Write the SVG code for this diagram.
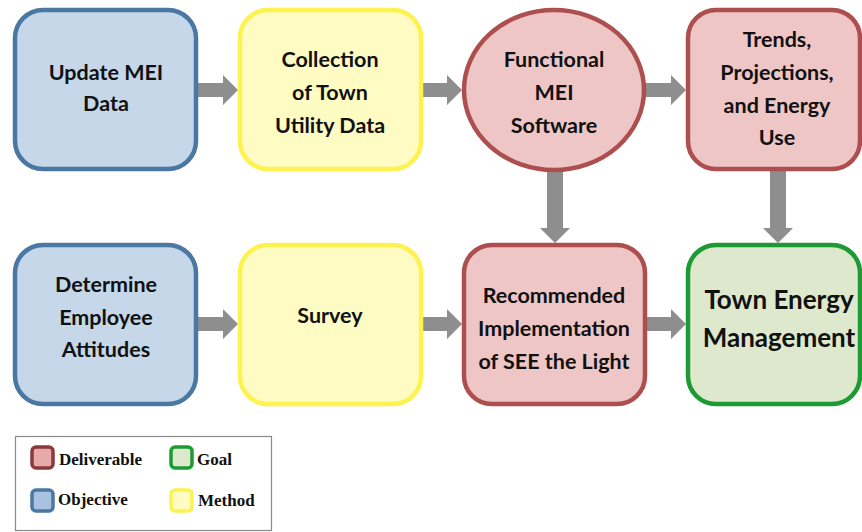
<svg xmlns="http://www.w3.org/2000/svg" width="862" height="532" viewBox="0 0 862 532">
<style>
.n{stroke-width:4.5}
.obj{fill:#c5d7e9;stroke:#4a78a2}
.met{fill:#fffcc3;stroke:#fdf24f}
.del{fill:#efc6c6;stroke:#ae4f4f}
.goal{fill:#dee8cd;stroke:#1d9a33}
.t{font-family:Lato,"Open Sans",sans-serif;font-weight:bold;font-size:21.5px;fill:#111;text-anchor:middle}
.tb{font-size:26px}
.a{fill:#8e8e8e}
.lg{font-family:"Liberation Serif",serif;font-weight:bold;font-size:17px;fill:#111}
.ls{stroke-width:3.5}
</style>
<rect width="862" height="532" fill="#fff"/>
<g id="connectors">
<polygon class="a" points="197,83 223,83 223,75 238,90 223,105 223,97 197,97"/>
<polygon class="a" points="421,83 447,83 447,75 462,90 447,105 447,97 421,97"/>
<polygon class="a" points="645,83 671,83 671,75 686,90 671,105 671,97 645,97"/>
<polygon class="a" points="197,317 223,317 223,309 238,324 223,339 223,331 197,331"/>
<polygon class="a" points="421,317 447,317 447,309 462,324 447,339 447,331 421,331"/>
<polygon class="a" points="645,317 671,317 671,309 686,324 671,339 671,331 645,331"/>
<polygon class="a" points="547,170 563,170 563,228 570,228 555,243 540,228 547,228"/>
<polygon class="a" points="770,170 786,170 786,228 793,228 778,243 763,228 770,228"/>
</g>
<g id="n1"><rect class="n obj" x="15" y="10" width="181" height="159" rx="28"/><text class="t" x="106" y="80">Update MEI</text><text class="t" x="106" y="111">Data</text></g>
<g id="n2"><rect class="n met" x="240" y="10" width="181" height="159" rx="28"/><text class="t" x="330" y="67">Collection</text><text class="t" x="330" y="100">of Town</text><text class="t" x="330" y="133">Utility Data</text></g>
<g id="n3"><ellipse class="n del" cx="554" cy="90" rx="90" ry="80"/><text class="t" x="554" y="67">Functional</text><text class="t" x="554" y="100">MEI</text><text class="t" x="554" y="133">Software</text></g>
<g id="n4"><rect class="n del" x="688" y="10" width="172" height="159" rx="28"/><text class="t" x="777" y="47">Trends,</text><text class="t" x="777" y="80">Projections,</text><text class="t" x="777" y="113">and Energy</text><text class="t" x="777" y="145">Use</text></g>
<g id="n5"><rect class="n obj" x="15" y="245" width="181" height="159" rx="28"/><text class="t" x="106" y="292">Determine</text><text class="t" x="106" y="325">Employee</text><text class="t" x="106" y="357">Attitudes</text></g>
<g id="n6"><rect class="n met" x="240" y="245" width="181" height="159" rx="28"/><text class="t" x="330" y="323">Survey</text></g>
<g id="n7"><rect class="n del" x="464" y="245" width="181" height="159" rx="28"/><text class="t" x="554" y="303">Recommended</text><text class="t" x="554" y="336">Implementation</text><text class="t" x="554" y="369">of SEE the Light</text></g>
<g id="n8"><rect class="n goal" x="688" y="245" width="172" height="159" rx="28"/><text class="t tb" x="779" y="309">Town Energy</text><text class="t tb" x="779" y="347">Management</text></g>
<g id="legend">
<rect x="15.5" y="436.5" width="256" height="94" fill="#fff" stroke="#8a8a8a" stroke-width="1.2"/>
<rect class="ls" x="32" y="447" width="21" height="21" rx="4" fill="#e8a9a9" stroke="#8a3a3a"/>
<text class="lg" x="59" y="465">Deliverable</text>
<rect class="ls" x="171" y="447" width="21" height="21" rx="4" fill="#dee8cd" stroke="#1d9a33"/>
<text class="lg" x="197" y="465">Goal</text>
<rect class="ls" x="32" y="490" width="21" height="21" rx="4" fill="#a9c2df" stroke="#4a78a2"/>
<text class="lg" x="58" y="505">Objective</text>
<rect class="ls" x="171" y="490" width="21" height="21" rx="4" fill="#fffcc3" stroke="#fdf24f"/>
<text class="lg" x="198" y="506">Method</text>
</g>
</svg>
